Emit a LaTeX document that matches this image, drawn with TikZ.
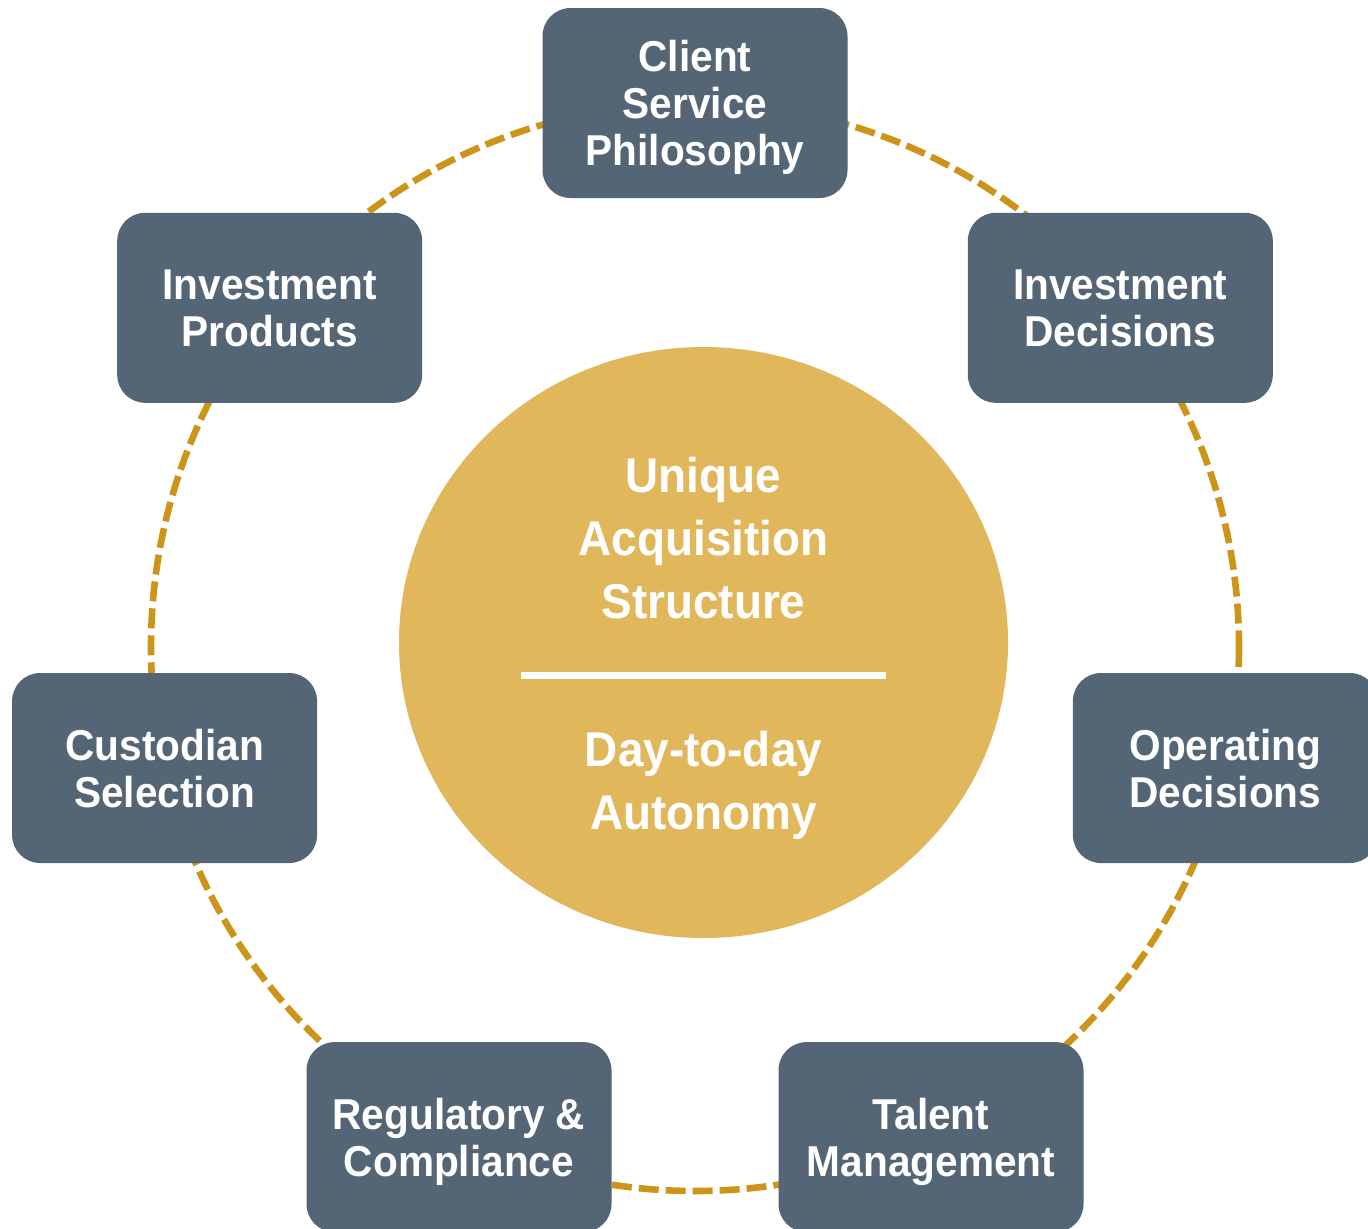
\documentclass[tikz,border=0pt]{standalone}
\usepackage{fontspec}
\setmainfont{Liberation Sans}[FakeStretch=0.94]
\usetikzlibrary{shapes.geometric}

\definecolor{slate}{RGB}{84,101,117}
\definecolor{hubgold}{RGB}{225,183,91}
\definecolor{ringgold}{RGB}{204,148,24}

\begin{document}
\begin{tikzpicture}[x=0.5pt,y=-0.5pt,
  card/.style={draw=none, fill=slate, rounded corners=14pt,
    minimum width=152.5pt, minimum height=95pt, inner sep=0pt,
    text=white, align=center, text depth=0pt,
    font=\fontsize{21.6}{23.5}\selectfont\bfseries},
  hubtext/.style={text=white, align=center, inner sep=0pt, text depth=0pt,
    font=\fontsize{24.4}{31.5}\selectfont\bfseries},
  ring/.style={draw=ringgold, line width=3.3pt, dash pattern=on 10pt off 3.5pt}]

\useasboundingbox (0,0) rectangle (1368,1228);
\fill[white] (0,0) rectangle (1368,1228);

% dashed ring linking the seven cards
\coordinate (o) at (695,647);
\draw[ring] (o) circle[radius=544];

% central hub
\node[ellipse, fill=hubgold, inner sep=0pt,
      minimum width=304.5pt, minimum height=295.5pt] (hub) at (703.5,642.5) {};
\node[hubtext] (hubtop) at (703.5,538) {Unique\\Acquisition\\Structure};
\coordinate (barl) at (521,675.5);
\coordinate (barr) at (886,675.5);
\draw[white, line width=3.5pt] (barl) -- (barr);
\node[hubtext] (hubbot) at (703.5,780) {Day-to-day\\Autonomy};

% cards around the ring
\node[card] (client)    at (695,103)     {Client\\Service\\Philosophy};
\node[card] (invdec)    at (1120.3,307.8) {Investment\\Decisions};
\node[card] (opdec)     at (1225.4,768)  {Operating\\Decisions};
\node[card] (talent)    at (931,1137.1)  {Talent\\Management};
\node[card] (reg)       at (459,1137.1)  {Regulatory \&\\Compliance};
\node[card] (custodian) at (164.6,768)   {Custodian\\Selection};
\node[card] (invprod)   at (269.7,307.8) {Investment\\Products};
\end{tikzpicture}
\end{document}
